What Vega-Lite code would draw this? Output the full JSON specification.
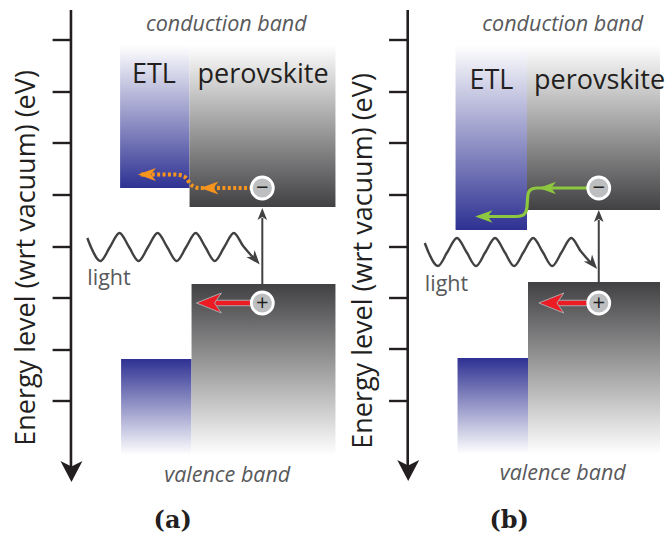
{
  "$schema": "https://vega.github.io/schema/vega-lite/v6.json",
  "width": 665,
  "height": 535,
  "padding": 0,
  "autosize": {"type": "fit", "contains": "padding"},
  "background": "#ffffff",
  "config": {"view": {"stroke": null}},
  "datasets": {
    "bands": [
      {"panel": "a", "material": "ETL", "band": "CB", "x": 121, "x2": 191, "y": 45, "y2": 188},
      {"panel": "a", "material": "perovskite", "band": "CB", "x": 191, "x2": 338, "y": 45, "y2": 207},
      {"panel": "a", "material": "ETL", "band": "VB", "x": 122, "x2": 193, "y": 359, "y2": 455},
      {"panel": "a", "material": "perovskite", "band": "VB", "x": 193, "x2": 338, "y": 284, "y2": 455},
      {"panel": "b", "material": "ETL", "band": "CB", "x": 459, "x2": 531, "y": 45, "y2": 230},
      {"panel": "b", "material": "perovskite", "band": "CB", "x": 531, "x2": 665, "y": 45, "y2": 210},
      {"panel": "b", "material": "ETL", "band": "VB", "x": 461, "x2": 532, "y": 358, "y2": 454},
      {"panel": "b", "material": "perovskite", "band": "VB", "x": 532, "x2": 665, "y": 282, "y2": 454}
    ],
    "axes": [
      {"panel": "a", "x": 71.5, "y": 10, "y2": 468},
      {"panel": "b", "x": 410.8, "y": 10, "y2": 466}
    ],
    "ticks": [
      {"panel": "a", "x": 53, "x2": 71.5, "y": 40},
      {"panel": "a", "x": 53, "x2": 71.5, "y": 92},
      {"panel": "a", "x": 53, "x2": 71.5, "y": 143},
      {"panel": "a", "x": 53, "x2": 71.5, "y": 195},
      {"panel": "a", "x": 53, "x2": 71.5, "y": 247},
      {"panel": "a", "x": 53, "x2": 71.5, "y": 298},
      {"panel": "a", "x": 53, "x2": 71.5, "y": 350},
      {"panel": "a", "x": 53, "x2": 71.5, "y": 401},
      {"panel": "b", "x": 392, "x2": 410.8, "y": 40},
      {"panel": "b", "x": 392, "x2": 410.8, "y": 92},
      {"panel": "b", "x": 392, "x2": 410.8, "y": 143},
      {"panel": "b", "x": 392, "x2": 410.8, "y": 195},
      {"panel": "b", "x": 392, "x2": 410.8, "y": 247},
      {"panel": "b", "x": 392, "x2": 410.8, "y": 298},
      {"panel": "b", "x": 392, "x2": 410.8, "y": 349},
      {"panel": "b", "x": 392, "x2": 410.8, "y": 401}
    ],
    "waves": [
      {"panel": "a", "x": 88, "y": 238},
      {"panel": "a", "x": 91.6, "y": 247},
      {"panel": "a", "x": 101.2, "y": 261},
      {"panel": "a", "x": 110.8, "y": 247},
      {"panel": "a", "x": 120.4, "y": 233},
      {"panel": "a", "x": 130, "y": 247},
      {"panel": "a", "x": 139.6, "y": 261},
      {"panel": "a", "x": 149.2, "y": 247},
      {"panel": "a", "x": 158.8, "y": 233},
      {"panel": "a", "x": 168.4, "y": 247},
      {"panel": "a", "x": 178, "y": 261},
      {"panel": "a", "x": 187.6, "y": 247},
      {"panel": "a", "x": 197.2, "y": 233},
      {"panel": "a", "x": 206.8, "y": 247},
      {"panel": "a", "x": 216.4, "y": 261},
      {"panel": "a", "x": 226, "y": 247},
      {"panel": "a", "x": 235.6, "y": 233},
      {"panel": "a", "x": 245, "y": 246},
      {"panel": "a", "x": 251, "y": 253},
      {"panel": "a", "x": 255, "y": 257.5},
      {"panel": "b", "x": 428, "y": 243},
      {"panel": "b", "x": 431.6, "y": 252},
      {"panel": "b", "x": 441.2, "y": 266},
      {"panel": "b", "x": 450.8, "y": 252},
      {"panel": "b", "x": 460.4, "y": 238},
      {"panel": "b", "x": 470, "y": 252},
      {"panel": "b", "x": 479.6, "y": 266},
      {"panel": "b", "x": 489.2, "y": 252},
      {"panel": "b", "x": 498.8, "y": 238},
      {"panel": "b", "x": 508.4, "y": 252},
      {"panel": "b", "x": 518, "y": 266},
      {"panel": "b", "x": 527.6, "y": 252},
      {"panel": "b", "x": 537.2, "y": 238},
      {"panel": "b", "x": 546.8, "y": 252},
      {"panel": "b", "x": 556.4, "y": 266},
      {"panel": "b", "x": 566, "y": 252},
      {"panel": "b", "x": 575.6, "y": 238},
      {"panel": "b", "x": 585, "y": 251},
      {"panel": "b", "x": 591, "y": 258},
      {"panel": "b", "x": 595, "y": 262.5}
    ],
    "excite": [
      {"panel": "a", "x": 264.3, "y": 284, "y2": 218},
      {"panel": "b", "x": 603.3, "y": 282, "y2": 220}
    ],
    "transfer": [
      {"panel": "a", "carrier": "electron", "x": 142, "y": 174.5},
      {"panel": "a", "carrier": "electron", "x": 176, "y": 174.5},
      {"panel": "a", "carrier": "electron", "x": 183, "y": 175.5},
      {"panel": "a", "carrier": "electron", "x": 188, "y": 178.5},
      {"panel": "a", "carrier": "electron", "x": 191, "y": 183},
      {"panel": "a", "carrier": "electron", "x": 195, "y": 186.5},
      {"panel": "a", "carrier": "electron", "x": 201, "y": 188},
      {"panel": "a", "carrier": "electron", "x": 252, "y": 188},
      {"panel": "b", "carrier": "electron", "x": 482, "y": 216.5},
      {"panel": "b", "carrier": "electron", "x": 520, "y": 216.5},
      {"panel": "b", "carrier": "electron", "x": 526, "y": 215.5},
      {"panel": "b", "carrier": "electron", "x": 529.5, "y": 212.5},
      {"panel": "b", "carrier": "electron", "x": 531, "y": 207},
      {"panel": "b", "carrier": "electron", "x": 531.5, "y": 199},
      {"panel": "b", "carrier": "electron", "x": 532.5, "y": 192.5},
      {"panel": "b", "carrier": "electron", "x": 536, "y": 189},
      {"panel": "b", "carrier": "electron", "x": 541, "y": 188},
      {"panel": "b", "carrier": "electron", "x": 592, "y": 188}
    ],
    "shafts": [
      {"panel": "a", "carrier": "hole", "x": 214, "x2": 253, "y": 303},
      {"panel": "b", "carrier": "hole", "x": 559, "x2": 592, "y": 303}
    ],
    "heads": [
      {"panel": "a", "kind": "axis", "x": 72, "y": 471},
      {"panel": "b", "kind": "axis", "x": 411.3, "y": 470},
      {"panel": "a", "kind": "excite", "x": 264.3, "y": 214},
      {"panel": "b", "kind": "excite", "x": 603.3, "y": 216},
      {"panel": "a", "kind": "wave", "x": 257, "y": 259},
      {"panel": "b", "kind": "wave", "x": 597, "y": 263.5},
      {"panel": "a", "kind": "orange", "x": 148, "y": 174.5},
      {"panel": "a", "kind": "orange", "x": 211, "y": 188},
      {"panel": "b", "kind": "green", "x": 551.5, "y": 188},
      {"panel": "b", "kind": "green", "x": 487.5, "y": 216.5},
      {"panel": "a", "kind": "red", "x": 210.5, "y": 303},
      {"panel": "b", "kind": "red", "x": 555.5, "y": 303}
    ],
    "carriers": [
      {"panel": "a", "carrier": "electron", "sign": "−", "x": 264.3, "y": 188},
      {"panel": "a", "carrier": "hole", "sign": "+", "x": 264.3, "y": 303},
      {"panel": "b", "carrier": "electron", "sign": "−", "x": 603.3, "y": 188},
      {"panel": "b", "carrier": "hole", "sign": "+", "x": 603.3, "y": 303}
    ],
    "labels": [
      {"panel": "a", "role": "band", "text": "conduction band", "x": 228, "y": 31},
      {"panel": "a", "role": "band", "text": "valence band", "x": 229, "y": 482},
      {"panel": "b", "role": "band", "text": "conduction band", "x": 567, "y": 31},
      {"panel": "b", "role": "band", "text": "valence band", "x": 567, "y": 480},
      {"panel": "a", "role": "material", "text": "ETL", "x": 133, "y": 83},
      {"panel": "a", "role": "material", "text": "perovskite", "x": 199, "y": 83},
      {"panel": "b", "role": "material", "text": "ETL", "x": 473, "y": 89},
      {"panel": "b", "role": "material", "text": "perovskite", "x": 538, "y": 89},
      {"panel": "a", "role": "light", "text": "light", "x": 88, "y": 285},
      {"panel": "b", "role": "light", "text": "light", "x": 428, "y": 291},
      {"panel": "a", "role": "axis", "text": "Energy level (wrt vacuum) (eV)", "x": 35, "y": 258},
      {"panel": "b", "role": "axis", "text": "Energy level (wrt vacuum) (eV)", "x": 375, "y": 261},
      {"panel": "a", "role": "caption", "text": "(a)", "x": 174, "y": 528},
      {"panel": "b", "role": "caption", "text": "(b)", "x": 513, "y": 528}
    ]
  },
  "encoding": {
    "x": {"field": "x", "type": "quantitative", "scale": {"domain": [0, 665], "nice": false, "zero": false}, "axis": null},
    "y": {"field": "y", "type": "quantitative", "scale": {"domain": [0, 535], "nice": false, "zero": false, "reverse": true}, "axis": null}
  },
  "layer": [
    {
      "data": {"name": "bands"},
      "transform": [{"filter": "datum.material === 'ETL' && datum.band === 'CB'"}],
      "mark": {"type": "rect", "fill": {"gradient": "linear", "x1": 0, "y1": 0, "x2": 0, "y2": 1, "stops": [{"offset": 0, "color": "#ffffff"}, {"offset": 1, "color": "#2e3192"}]}},
      "encoding": {"x2": {"field": "x2"}, "y2": {"field": "y2"}}
    },
    {
      "data": {"name": "bands"},
      "transform": [{"filter": "datum.material === 'perovskite' && datum.band === 'CB'"}],
      "mark": {"type": "rect", "fill": {"gradient": "linear", "x1": 0, "y1": 0, "x2": 0, "y2": 1, "stops": [{"offset": 0, "color": "#ffffff"}, {"offset": 1, "color": "#414042"}]}},
      "encoding": {"x2": {"field": "x2"}, "y2": {"field": "y2"}}
    },
    {
      "data": {"name": "bands"},
      "transform": [{"filter": "datum.material === 'ETL' && datum.band === 'VB'"}],
      "mark": {"type": "rect", "fill": {"gradient": "linear", "x1": 0, "y1": 0, "x2": 0, "y2": 1, "stops": [{"offset": 0, "color": "#2e3192"}, {"offset": 1, "color": "#ffffff"}]}},
      "encoding": {"x2": {"field": "x2"}, "y2": {"field": "y2"}}
    },
    {
      "data": {"name": "bands"},
      "transform": [{"filter": "datum.material === 'perovskite' && datum.band === 'VB'"}],
      "mark": {"type": "rect", "fill": {"gradient": "linear", "x1": 0, "y1": 0, "x2": 0, "y2": 1, "stops": [{"offset": 0, "color": "#414042"}, {"offset": 1, "color": "#ffffff"}]}},
      "encoding": {"x2": {"field": "x2"}, "y2": {"field": "y2"}}
    },
    {
      "data": {"name": "axes"},
      "mark": {"type": "rule", "color": "#231f20", "strokeWidth": 2.6},
      "encoding": {"y2": {"field": "y2"}}
    },
    {
      "data": {"name": "ticks"},
      "mark": {"type": "rule", "color": "#231f20", "strokeWidth": 2.4},
      "encoding": {"x2": {"field": "x2"}}
    },
    {
      "data": {"name": "heads"},
      "transform": [{"filter": "datum.kind === 'axis'"}],
      "mark": {"type": "point", "shape": "M0,1 L-1,-0.9 L0,-0.4 L1,-0.9 Z", "size": 484, "filled": true, "fill": "#231f20", "strokeWidth": 0, "opacity": 1},
      "encoding": {}
    },
    {
      "data": {"name": "waves"},
      "mark": {"type": "line", "color": "#414042", "strokeWidth": 2.4, "interpolate": "monotone"},
      "encoding": {"detail": {"field": "panel"}}
    },
    {
      "data": {"name": "heads"},
      "transform": [{"filter": "datum.kind === 'wave'"}],
      "mark": {"type": "point", "shape": "M1,0 L-1,-0.75 L-0.4,0 L-1,0.75 Z", "size": 210, "angle": 50, "filled": true, "fill": "#414042", "strokeWidth": 0, "opacity": 1},
      "encoding": {}
    },
    {
      "data": {"name": "excite"},
      "mark": {"type": "rule", "color": "#414042", "strokeWidth": 2},
      "encoding": {"y2": {"field": "y2"}}
    },
    {
      "data": {"name": "heads"},
      "transform": [{"filter": "datum.kind === 'excite'"}],
      "mark": {"type": "point", "shape": "M0,-1 L0.8,1 L0,0.5 L-0.8,1 Z", "size": 144, "filled": true, "fill": "#414042", "strokeWidth": 0, "opacity": 1},
      "encoding": {}
    },
    {
      "data": {"name": "transfer"},
      "transform": [{"filter": "datum.panel === 'a'"}],
      "mark": {"type": "line", "color": "#f7941d", "strokeWidth": 4, "strokeDash": [3, 2.4], "interpolate": "monotone"},
      "encoding": {"detail": {"field": "panel"}}
    },
    {
      "data": {"name": "transfer"},
      "transform": [{"filter": "datum.panel === 'b'"}],
      "mark": {"type": "line", "color": "#8dc63f", "strokeWidth": 3.2, "interpolate": "monotone"},
      "encoding": {"detail": {"field": "panel"}}
    },
    {
      "data": {"name": "heads"},
      "transform": [{"filter": "datum.kind === 'orange'"}],
      "mark": {"type": "point", "shape": "M-1,0 L1,-0.72 L0.45,0 L1,0.72 Z", "size": 324, "filled": true, "fill": "#f7941d", "strokeWidth": 0, "opacity": 1},
      "encoding": {}
    },
    {
      "data": {"name": "heads"},
      "transform": [{"filter": "datum.kind === 'green'"}],
      "mark": {"type": "point", "shape": "M-1,0 L1,-0.72 L0.45,0 L1,0.72 Z", "size": 300, "filled": true, "fill": "#8dc63f", "strokeWidth": 0, "opacity": 1},
      "encoding": {}
    },
    {
      "data": {"name": "shafts"},
      "mark": {"type": "rule", "color": "#a7a9ac", "strokeWidth": 6.5, "strokeCap": "butt"},
      "encoding": {"x2": {"field": "x2"}}
    },
    {
      "data": {"name": "shafts"},
      "mark": {"type": "rule", "color": "#ed1c24", "strokeWidth": 4.5, "strokeCap": "butt"},
      "encoding": {"x2": {"field": "x2"}}
    },
    {
      "data": {"name": "heads"},
      "transform": [{"filter": "datum.kind === 'red'"}],
      "mark": {"type": "point", "shape": "M-1,0 L1,-0.8 L0.45,0 L1,0.8 Z", "size": 625, "filled": true, "fill": "#ed1c24", "stroke": "#a7a9ac", "strokeWidth": 1, "opacity": 1},
      "encoding": {}
    },
    {
      "data": {"name": "carriers"},
      "mark": {"type": "point", "shape": "circle", "size": 484, "filled": true, "fill": "#bcbec0", "stroke": "#ffffff", "strokeWidth": 2.8, "opacity": 1},
      "encoding": {}
    },
    {
      "data": {"name": "carriers"},
      "mark": {"type": "text", "font": "Open Sans", "fontSize": 22, "color": "#231f20", "align": "center", "baseline": "middle"},
      "encoding": {"text": {"field": "sign"}}
    },
    {
      "data": {"name": "labels"},
      "transform": [{"filter": "datum.role === 'band'"}],
      "mark": {"type": "text", "font": "Open Sans", "fontSize": 21.5, "fontStyle": "italic", "color": "#58595b", "align": "center", "baseline": "alphabetic"},
      "encoding": {"text": {"field": "text"}}
    },
    {
      "data": {"name": "labels"},
      "transform": [{"filter": "datum.role === 'material'"}],
      "mark": {"type": "text", "font": "Open Sans", "fontSize": 27, "color": "#231f20", "align": "left", "baseline": "alphabetic"},
      "encoding": {"text": {"field": "text"}}
    },
    {
      "data": {"name": "labels"},
      "transform": [{"filter": "datum.role === 'light'"}],
      "mark": {"type": "text", "font": "Open Sans", "fontSize": 21.5, "color": "#58595b", "align": "left", "baseline": "alphabetic"},
      "encoding": {"text": {"field": "text"}}
    },
    {
      "data": {"name": "labels"},
      "transform": [{"filter": "datum.role === 'axis'"}],
      "mark": {"type": "text", "font": "Open Sans", "fontSize": 27, "angle": 270, "color": "#231f20", "align": "center", "baseline": "alphabetic"},
      "encoding": {"text": {"field": "text"}}
    },
    {
      "data": {"name": "labels"},
      "transform": [{"filter": "datum.role === 'caption'"}],
      "mark": {"type": "text", "font": "DejaVu Serif", "fontSize": 24, "fontWeight": "bold", "color": "#231f20", "align": "center", "baseline": "alphabetic"},
      "encoding": {"text": {"field": "text"}}
    }
  ]
}
